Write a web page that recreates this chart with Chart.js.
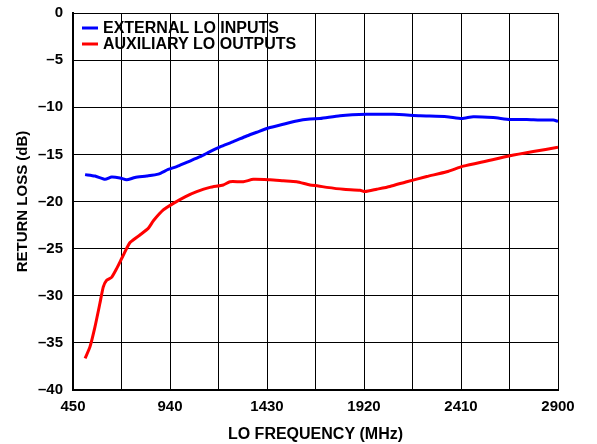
<!DOCTYPE html>
<html>
<head>
<meta charset="utf-8">
<script src="https://cdn.jsdelivr.net/npm/chart.js@4/dist/chart.umd.min.js"></script>
<style>
  html, body { margin: 0; padding: 0; background: #fff; }
  #wrap { width: 597px; height: 444px; position: relative; }
</style>
</head>
<body>
<div id="wrap"><canvas id="canvas"></canvas></div>
<script>
'use strict';

// frequencies in MHz, return loss in dB
var extFreq = [511, 561, 612, 645, 687, 721, 763, 822, 881, 931, 974, 1024, 1092, 1142, 1193, 1260, 1327, 1378, 1445, 1512, 1580, 1647, 1698, 1799, 1934, 2068, 2203, 2338, 2414, 2472, 2573, 2658, 2742, 2809, 2876, 2900];
var extLoss = [-17.15, -17.3, -17.65, -17.4, -17.5, -17.7, -17.45, -17.3, -17.1, -16.6, -16.3, -15.85, -15.25, -14.7, -14.2, -13.65, -13.05, -12.65, -12.15, -11.8, -11.45, -11.25, -11.2, -10.9, -10.75, -10.75, -10.9, -11.0, -11.2, -11.0, -11.1, -11.3, -11.3, -11.35, -11.35, -11.5];

var auxFreq = [511, 536, 561, 586, 603, 620, 645, 671, 704, 738, 788, 830, 856, 906, 957, 1016, 1075, 1142, 1209, 1243, 1310, 1361, 1445, 1512, 1580, 1647, 1689, 1732, 1816, 1900, 1925, 1984, 2051, 2136, 2237, 2338, 2422, 2540, 2658, 2775, 2900];
var auxLoss = [-36.65, -35.4, -33.3, -30.8, -29.05, -28.35, -28.05, -27.1, -25.7, -24.35, -23.55, -22.85, -22.05, -20.9, -20.2, -19.5, -18.95, -18.5, -18.25, -17.9, -17.9, -17.65, -17.7, -17.8, -17.9, -18.25, -18.35, -18.5, -18.7, -18.8, -18.95, -18.7, -18.4, -17.9, -17.35, -16.85, -16.25, -15.7, -15.15, -14.7, -14.25];

var xLabels = [450, 940, 1430, 1920, 2410, 2900];
var seriesNames = ['EXTERNAL LO INPUTS', 'AUXILIARY LO OUTPUTS'];

function toPoints(xs, ys) {
  var pts = [];
  for (var i = 0; i < xs.length; i++) {
    pts.push({ x: xs[i], y: ys[i] });
  }
  return pts;
}

var FONT = 'Liberation Sans, Arial, sans-serif';

// legend drawn inside the plot area, top left
var innerLegend = {
  id: 'innerLegend',
  afterDraw: function (chart) {
    var c = chart.ctx;
    var area = chart.chartArea;
    c.save();
    c.font = 'bold 16px ' + FONT;
    c.textBaseline = 'middle';
    chart.data.datasets.forEach(function (ds, i) {
      var y = area.top + 15 + i * 16;
      c.strokeStyle = ds.borderColor;
      c.lineWidth = 3;
      c.beginPath();
      c.moveTo(area.left + 9, y);
      c.lineTo(area.left + 25, y);
      c.stroke();
      c.fillStyle = '#000';
      c.fillText(ds.label, area.left + 30, y + 1);
    });
    c.restore();
  }
};

var ctx = document.getElementById('canvas').getContext('2d');

var chart = new Chart(ctx, {
  type: 'line',
  data: {
    datasets: [{
      label: seriesNames[0],
      data: toPoints(extFreq, extLoss),
      borderColor: '#0000ff',
      borderWidth: 3,
      pointRadius: 0,
      tension: 0.2,
      fill: false
    }, {
      label: seriesNames[1],
      data: toPoints(auxFreq, auxLoss),
      borderColor: '#ff0000',
      borderWidth: 3,
      pointRadius: 0,
      tension: 0.2,
      fill: false
    }]
  },
  options: {
    responsive: true,
    maintainAspectRatio: false,
    animation: false,
    layout: { padding: { top: 13, right: 39, left: 14, bottom: 0 } },
    plugins: {
      legend: { display: false },
      tooltip: { enabled: false }
    },
    scales: {
      x: {
        type: 'linear',
        min: 450,
        max: 2900,
        afterBuildTicks: function (scale) {
          var t = [];
          for (var v = 450; v <= 2900; v += 245) t.push({ value: v });
          scale.ticks = t;
        },
        afterFit: function (scale) {
          scale.height = 54;
          scale.paddingLeft = 0;
          scale.paddingRight = 0;
        },
        ticks: {
          autoSkip: false,
          maxRotation: 0,
          color: '#000',
          font: { family: FONT, size: 15, weight: 'bold' },
          padding: 8,
          callback: function (v) { return xLabels.indexOf(v) >= 0 ? String(v) : ''; }
        },
        grid: { color: '#000', lineWidth: 1, drawTicks: false },
        border: { color: '#000', width: 2 },
        title: {
          display: true,
          text: 'LO FREQUENCY (MHz)',
          color: '#000',
          font: { family: FONT, size: 16, weight: 'bold' },
          padding: { top: 4, bottom: 0 }
        }
      },
      y: {
        min: -40,
        max: 0,
        ticks: {
          stepSize: 5,
          color: '#000',
          font: { family: FONT, size: 15, weight: 'bold' },
          padding: 10,
          callback: function (v) { return v < 0 ? '\u2013' + Math.abs(v) : String(v); }
        },
        afterFit: function (scale) {
          scale.width = 59;
          scale.paddingTop = 0;
          scale.paddingBottom = 0;
        },
        grid: { color: '#000', lineWidth: 1, drawTicks: false },
        border: { color: '#000', width: 2 },
        title: {
          display: true,
          text: 'RETURN LOSS (dB)',
          color: '#000',
          font: { family: FONT, size: 15, weight: 'bold' },
          padding: { top: 0, bottom: 4 }
        }
      }
    }
  },
  plugins: [innerLegend]
});
</script>
</body>
</html>
